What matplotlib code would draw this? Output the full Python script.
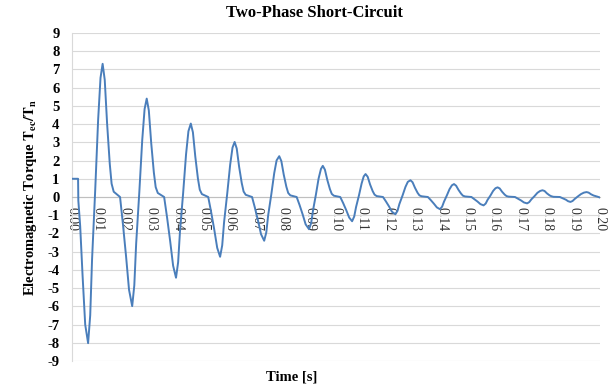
import matplotlib
matplotlib.use("Agg")
import matplotlib.pyplot as plt

# time [s] and torque Tec/Tn
time_s = [
    0.0000, 0.0023, 0.0024, 0.0031, 0.0040, 0.0050,
    # cycle 1
    0.0061, 0.0069, 0.0076, 0.0088, 0.0099, 0.0108, 0.0116, 0.0124, 0.0133,
    0.0143, 0.0150, 0.0158, 0.0182, 0.0193, 0.0205, 0.0216,
    # cycle 2
    0.0228, 0.0236, 0.0243, 0.0255, 0.0266, 0.0275, 0.0283, 0.0291, 0.0300,
    0.0310, 0.0317, 0.0325, 0.0349, 0.0360, 0.0372, 0.0383,
    # cycle 3
    0.0394, 0.0402, 0.0409, 0.0421, 0.0432, 0.0441, 0.0450, 0.0458, 0.0467,
    0.0477, 0.0484, 0.0492, 0.0516, 0.0527, 0.0539, 0.0550,
    # cycle 4
    0.0561, 0.0569, 0.0576, 0.0588, 0.0599, 0.0608, 0.0616, 0.0624, 0.0633,
    0.0643, 0.0650, 0.0658, 0.0682, 0.0693, 0.0705, 0.0716,
    # cycle 5
    0.0728, 0.0736, 0.0743, 0.0755, 0.0766, 0.0775, 0.0785, 0.0793, 0.0802,
    0.0812, 0.0819, 0.0827, 0.0851, 0.0862, 0.0874, 0.0885,
    # cycle 6
    0.0898, 0.0906, 0.0913, 0.0924, 0.0934, 0.0943, 0.0950, 0.0958, 0.0967,
    0.0977, 0.0984, 0.0992, 0.1016, 0.1027, 0.1039, 0.1050,
    # cycle 7
    0.1061, 0.1069, 0.1076, 0.1087, 0.1097, 0.1105, 0.1112, 0.1120, 0.1129,
    0.1139, 0.1146, 0.1154, 0.1178, 0.1189, 0.1201, 0.1212,
    # cycle 8
    0.1225, 0.1233, 0.1240, 0.1252, 0.1263, 0.1272, 0.1282, 0.1290, 0.1299,
    0.1309, 0.1316, 0.1324, 0.1348, 0.1359, 0.1371, 0.1382,
    # cycle 9
    0.1394, 0.1402, 0.1409, 0.1420, 0.1430, 0.1439, 0.1447, 0.1455, 0.1464,
    0.1474, 0.1481, 0.1489, 0.1513, 0.1524, 0.1536, 0.1547,
    # cycle 10
    0.1559, 0.1567, 0.1574, 0.1585, 0.1595, 0.1604, 0.1612, 0.1620, 0.1629,
    0.1639, 0.1646, 0.1654, 0.1678, 0.1689, 0.1701, 0.1712,
    # cycle 11
    0.1724, 0.1732, 0.1740, 0.1752, 0.1763, 0.1773, 0.1782, 0.1790, 0.1799,
    0.1809, 0.1816, 0.1824, 0.1848, 0.1859, 0.1871, 0.1879,
    # cycle 12
    0.1888, 0.1896, 0.1904, 0.1916, 0.1928, 0.1939, 0.1949, 0.1957, 0.1966,
    0.1976, 0.1990, 0.2000,
]

torque = [
    1.00, 1.00, -0.20, -1.60, -4.30, -7.00,
    -8.02, -6.49, -3.42, 0.41, 4.24, 6.54, 7.31, 6.43, 4.02,
    1.83, 0.73, 0.29, 0.00, -1.50, -3.29, -5.09,
    -5.99, -4.85, -2.57, 0.27, 3.12, 4.83, 5.40, 4.75, 2.97,
    1.35, 0.54, 0.22, 0.00, -1.11, -2.44, -3.77,
    -4.43, -3.58, -1.89, 0.22, 2.34, 3.61, 4.03, 3.55, 2.22,
    1.01, 0.40, 0.16, 0.00, -0.82, -1.80, -2.79,
    -3.28, -2.65, -1.39, 0.19, 1.76, 2.71, 3.02, 2.66, 1.66,
    0.76, 0.30, 0.12, 0.00, -0.60, -1.32, -2.04,
    -2.40, -1.94, -1.01, 0.15, 1.31, 2.01, 2.24, 1.97, 1.23,
    0.56, 0.22, 0.09, 0.00, -0.44, -0.97, -1.50,
    -1.77, -1.42, -0.73, 0.14, 1.01, 1.54, 1.71, 1.50, 0.94,
    0.43, 0.17, 0.07, 0.00, -0.33, -0.73, -1.13,
    -1.33, -1.07, -0.55, 0.09, 0.74, 1.13, 1.26, 1.11, 0.69,
    0.32, 0.13, 0.05, 0.00, -0.24, -0.52, -0.81,
    -0.95, -0.76, -0.39, 0.08, 0.55, 0.83, 0.92, 0.81, 0.51,
    0.23, 0.09, 0.04, 0.00, -0.17, -0.37, -0.57,
    -0.67, -0.53, -0.26, 0.09, 0.43, 0.64, 0.71, 0.62, 0.39,
    0.18, 0.07, 0.03, 0.00, -0.12, -0.25, -0.39,
    -0.46, -0.36, -0.16, 0.08, 0.33, 0.48, 0.53, 0.47, 0.29,
    0.13, 0.05, 0.02, 0.00, -0.09, -0.19, -0.30,
    -0.35, -0.28, -0.13, 0.05, 0.23, 0.33, 0.37, 0.33, 0.20,
    0.09, 0.04, 0.01, 0.00, -0.07, -0.15, -0.23,
    -0.27, -0.22, -0.11, 0.03, 0.16, 0.24, 0.27, 0.24, 0.15,
    0.08, 0.02, -0.03,
]

x_ticks = [i / 100 for i in range(21)]
x_labels = ["%.2f" % v for v in x_ticks]
y_ticks = list(range(-9, 10))

plt.rcParams["font.family"] = ["Liberation Serif", "DejaVu Serif"]
plt.rcParams["mathtext.fontset"] = "stix"

fig = plt.figure(figsize=(6.12, 3.85), dpi=100)
ax = fig.add_axes([72 / 612, 1 - 361 / 385, 528 / 612, 328 / 385])

ax.plot(time_s, torque, color="#4a7ebb", linewidth=1.4, zorder=3,
        solid_joinstyle="round")

# x axis crosses at zero (set before the ticks, it resets them)
for side in ["top", "right"]:
    ax.spines[side].set_visible(False)
ax.spines["bottom"].set_position(("data", 0))
ax.spines["bottom"].set_color("#bfbfbf")
ax.spines["left"].set_color("#d9d9d9")

ax.set_xlim(0, 0.2)
ax.set_ylim(-9, 9)
ax.set_yticks(y_ticks)
ax.set_yticklabels([str(v) for v in y_ticks], fontsize=10.5, fontweight="bold")
ax.set_xticks(x_ticks)
ax.set_xticklabels(x_labels, fontsize=10, color="#333333")
ax.tick_params(axis="y", length=0, pad=9)
ax.tick_params(axis="x", length=0, pad=7, labelrotation=-90)

ax.grid(axis="y", color="#d9d9d9", linewidth=0.8)
ax.set_axisbelow(True)

fig.text(314 / 612, 1 - 13 / 385, "Two-Phase Short-Circuit", ha="center",
         va="center", fontsize=12, fontweight="bold")
fig.text(292 / 612, 1 - 377 / 385, "Time [s]", ha="center", va="center",
         fontsize=10.5, fontweight="bold")
fig.text(31 / 612, 1 - 197 / 385,
         r"Electromagnetic Torque $\mathbf{T_{ec}/T_n}$", rotation=90,
         ha="center", va="center", fontsize=10.5, fontweight="bold")

fig.savefig("out.png", dpi=100)
